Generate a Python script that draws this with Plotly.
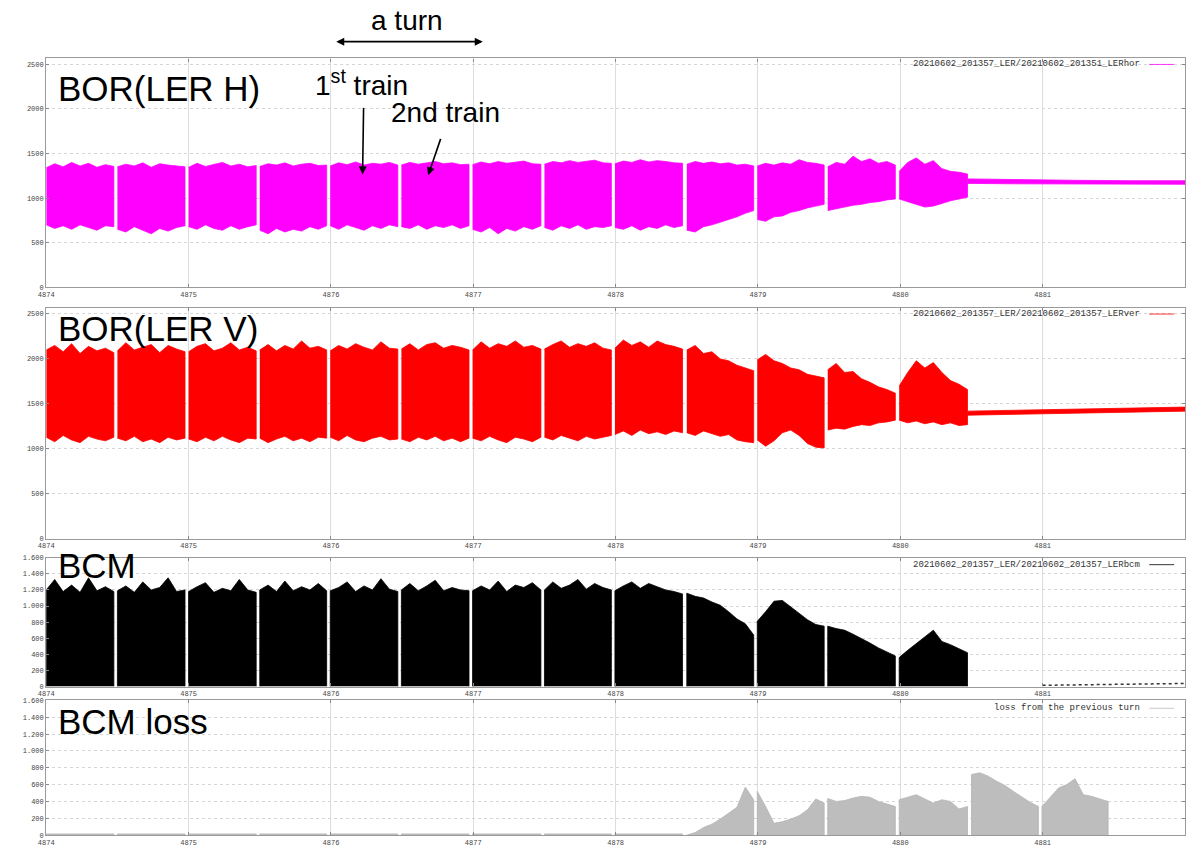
import numpy as np
import plotly.graph_objects as go

W, H = 1188, 850

# ---------------- data ----------------
x_ticks = [4874, 4875, 4876, 4877, 4878, 4879, 4880, 4881, 4882]
x_ticklabels = ["4874", "4875", "4876", "4877", "4878", "4879", "4880", "4881", "4882"]
bor_ticks = [0, 500, 1000, 1500, 2000, 2500]
bor_ticklabels = ["0", "500", "1000", "1500", "2000", "2500"]
bcm_ticks = [0, 200, 400, 600, 800, 1000, 1200, 1400, 1600]
bcm_ticklabels = ["0", "200", "400", "600", "800", "1.000", "1.200", "1.400", "1.600"]

train_start = [4874.0, 4874.50, 4875.0, 4875.50, 4875.995, 4876.495, 4876.995, 4877.50,
               4877.995, 4878.50, 4878.995, 4879.49, 4879.992, 4880.50, 4880.995]
train_end = [4874.475, 4874.975, 4875.475, 4875.97, 4876.47, 4876.97, 4877.475, 4877.97,
             4878.47, 4878.97, 4879.465, 4879.965, 4880.472, 4880.97, 4881.46]

# BOR (LER H): upper / lower envelope per train
borh_top = [
    [1340, 1385, 1350, 1400, 1360, 1390, 1345, 1375, 1355],
    [1350, 1380, 1360, 1395, 1345, 1385, 1370, 1360, 1350],
    [1345, 1390, 1355, 1375, 1400, 1360, 1380, 1350, 1365],
    [1355, 1385, 1370, 1395, 1360, 1380, 1390, 1365, 1370],
    [1360, 1395, 1375, 1405, 1370, 1390, 1380, 1400, 1370],
    [1370, 1400, 1380, 1395, 1410, 1385, 1395, 1375, 1380],
    [1375, 1405, 1385, 1410, 1390, 1400, 1415, 1385, 1380],
    [1380, 1410, 1395, 1420, 1400, 1415, 1425, 1395, 1390],
    [1385, 1415, 1400, 1430, 1405, 1420, 1410, 1395, 1390],
    [1380, 1410, 1390, 1405, 1385, 1395, 1370, 1380, 1360],
    [1360, 1390, 1370, 1395, 1380, 1430, 1400, 1390, 1370],
    [1350, 1400, 1380, 1470, 1410, 1440, 1390, 1410, 1370],
    [1300, 1400, 1450, 1380, 1420, 1330, 1300, 1290, 1270],
]
borh_bot = [
    [700, 660, 690, 650, 700, 670, 640, 690, 680],
    [650, 620, 680, 640, 600, 660, 630, 670, 690],
    [680, 650, 700, 660, 640, 690, 650, 680, 700],
    [640, 600, 660, 620, 650, 630, 680, 650, 690],
    [690, 650, 700, 670, 640, 690, 660, 700, 680],
    [680, 660, 700, 650, 690, 670, 700, 660, 690],
    [650, 620, 670, 600, 660, 630, 680, 650, 690],
    [670, 640, 690, 660, 700, 650, 680, 670, 690],
    [670, 650, 690, 640, 680, 660, 700, 670, 690],
    [640, 620, 680, 700, 730, 760, 790, 830, 860],
    [760, 740, 790, 800, 840, 860, 890, 910, 930],
    [860, 880, 900, 920, 930, 950, 960, 980, 990],
    [990, 960, 930, 900, 910, 940, 970, 990, 1010],
]
borh_tail_x = [4880.472, 4880.8, 4881.2, 4881.6, 4882.0]
borh_tail_top = [1215, 1205, 1200, 1195, 1195]
borh_tail_bot = [1165, 1160, 1160, 1155, 1155]

# BOR (LER V)
borv_top = [
    [2100, 2150, 2080, 2170, 2060, 2140, 2090, 2120, 2070],
    [2090, 2180, 2100, 2130, 2160, 2070, 2150, 2110, 2080],
    [2080, 2140, 2170, 2090, 2120, 2180, 2100, 2130, 2090],
    [2100, 2160, 2090, 2150, 2110, 2200, 2120, 2140, 2100],
    [2090, 2150, 2110, 2170, 2130, 2100, 2190, 2120, 2110],
    [2110, 2170, 2100, 2160, 2180, 2120, 2150, 2130, 2100],
    [2100, 2190, 2120, 2170, 2140, 2200, 2130, 2150, 2110],
    [2110, 2160, 2200, 2130, 2170, 2140, 2180, 2120, 2100],
    [2120, 2210, 2150, 2190, 2130, 2200, 2160, 2140, 2110],
    [2100, 2150, 2060, 2080, 2000, 1980, 1930, 1900, 1870],
    [1990, 2050, 1980, 1950, 1900, 1880, 1830, 1810, 1790],
    [1880, 1950, 1850, 1860, 1780, 1740, 1690, 1660, 1620],
    [1700, 1850, 1980, 1900, 1960, 1850, 1760, 1720, 1660],
]
borv_bot = [
    [1130, 1080, 1150, 1100, 1070, 1140, 1110, 1090, 1130],
    [1120, 1090, 1140, 1080, 1110, 1070, 1130, 1100, 1120],
    [1110, 1080, 1130, 1090, 1140, 1100, 1070, 1120, 1110],
    [1120, 1070, 1110, 1140, 1090, 1120, 1080, 1130, 1120],
    [1130, 1090, 1150, 1100, 1080, 1120, 1140, 1100, 1110],
    [1110, 1080, 1130, 1100, 1140, 1090, 1120, 1080, 1120],
    [1120, 1090, 1140, 1100, 1070, 1130, 1110, 1080, 1130],
    [1130, 1100, 1150, 1120, 1090, 1140, 1110, 1130, 1150],
    [1160, 1200, 1150, 1210, 1170, 1190, 1160, 1200, 1180],
    [1180, 1150, 1200, 1170, 1140, 1160, 1100, 1080, 1070],
    [1100, 1030, 1090, 1180, 1210, 1150, 1060, 1020, 1010],
    [1210, 1230, 1220, 1250, 1270, 1260, 1290, 1300, 1320],
    [1320, 1290, 1310, 1280, 1300, 1270, 1290, 1260, 1270],
]
borv_tail_x = [4880.472, 4881.0, 4881.5, 4882.0]
borv_tail_top = [1420, 1435, 1450, 1465]
borv_tail_bot = [1375, 1390, 1405, 1420]

# BCM
bcm_top = [
    [1200, 1330, 1180, 1260, 1170, 1350, 1190, 1240, 1180],
    [1190, 1250, 1170, 1300, 1200, 1230, 1350, 1180, 1200],
    [1180, 1240, 1290, 1170, 1220, 1190, 1330, 1200, 1170],
    [1200, 1260, 1180, 1310, 1190, 1240, 1200, 1280, 1190],
    [1190, 1230, 1300, 1180, 1250, 1200, 1340, 1210, 1180],
    [1200, 1280, 1190, 1250, 1320, 1190, 1230, 1200, 1190],
    [1190, 1250, 1200, 1310, 1180, 1260, 1230, 1290, 1200],
    [1200, 1300, 1220, 1260, 1330, 1210, 1280, 1230, 1200],
    [1190, 1250, 1300, 1220, 1280, 1240, 1200, 1180, 1150],
    [1160, 1120, 1100, 1050, 1010, 930, 840, 780, 640],
    [810, 930, 1060, 1070, 990, 910, 830, 770, 750],
    [750, 720, 700, 650, 600, 540, 480, 430, 380],
    [360, 450, 530, 620, 700, 560, 520, 470, 420],
]
bcm_tail_x = [4881.0, 4881.3, 4881.7, 4882.0]
bcm_tail_top = [15, 22, 30, 38]

# BCM loss (loss from the previous turn)
loss_top = [
    [14, 14, 14, 14, 14, 14, 14, 14, 14],
    [14, 14, 14, 14, 14, 14, 14, 14, 14],
    [14, 14, 14, 14, 14, 14, 14, 14, 14],
    [14, 14, 14, 14, 14, 14, 14, 14, 14],
    [14, 14, 14, 14, 14, 14, 14, 14, 14],
    [14, 14, 14, 14, 14, 14, 14, 14, 14],
    [14, 14, 14, 14, 14, 14, 14, 14, 14],
    [14, 14, 14, 14, 14, 14, 14, 14, 14],
    [14, 14, 14, 14, 14, 14, 14, 14, 14],
    [0, 30, 90, 130, 190, 260, 330, 570, 420],
    [520, 340, 140, 160, 190, 230, 300, 430, 380],
    [435, 400, 410, 440, 460, 450, 400, 370, 340],
    [420, 450, 480, 430, 380, 420, 400, 310, 340],
    [720, 740, 700, 640, 590, 520, 450, 390, 340],
    [340, 450, 560, 600, 670, 480, 460, 430, 400],
]

# ---------------- helpers ----------------
def band(tops, bots):
    xs, ys = [], []
    for k, (t, b) in enumerate(zip(tops, bots)):
        xk = list(np.linspace(train_start[k], train_end[k], len(t)))
        xs += xk + xk[::-1] + [None]
        ys += list(t) + list(b)[::-1] + [None]
    return xs, ys


def bars(tops):
    xs, ys = [], []
    for k, t in enumerate(tops):
        xk = list(np.linspace(train_start[k], train_end[k], len(t)))
        xs += [train_start[k]] + xk + [train_end[k], None]
        ys += [0] + list(t) + [0, None]
    return xs, ys


def px(xp):
    return xp / W


def py(yp):
    return 1 - yp / H


fig = go.Figure()

# Panel 1
bx, by = band(borh_top, borh_bot)
fig.add_trace(go.Scatter(x=bx, y=by, fill="toself", fillcolor="#ff00ff", mode="lines",
                         line=dict(color="#ff00ff", width=0.8), xaxis="x", yaxis="y",
                         showlegend=False, hoverinfo="skip"))
fig.add_trace(go.Scatter(x=borh_tail_x + borh_tail_x[::-1], y=borh_tail_top + borh_tail_bot[::-1],
                         fill="toself", fillcolor="#ff00ff", mode="lines",
                         line=dict(color="#ff00ff", width=0.8), xaxis="x", yaxis="y",
                         showlegend=False, hoverinfo="skip"))
# Panel 2
bx, by = band(borv_top, borv_bot)
fig.add_trace(go.Scatter(x=bx, y=by, fill="toself", fillcolor="#ff0000", mode="lines",
                         line=dict(color="#ff0000", width=0.8), xaxis="x2", yaxis="y2",
                         showlegend=False, hoverinfo="skip"))
fig.add_trace(go.Scatter(x=borv_tail_x + borv_tail_x[::-1], y=borv_tail_top + borv_tail_bot[::-1],
                         fill="toself", fillcolor="#ff0000", mode="lines",
                         line=dict(color="#ff0000", width=0.8), xaxis="x2", yaxis="y2",
                         showlegend=False, hoverinfo="skip"))
# Panel 3
bx, by = bars(bcm_top)
fig.add_trace(go.Scatter(x=bx, y=by, fill="toself", fillcolor="#000000", mode="lines",
                         line=dict(color="#000000", width=0.8), xaxis="x3", yaxis="y3",
                         showlegend=False, hoverinfo="skip"))
fig.add_trace(go.Scatter(x=bcm_tail_x, y=bcm_tail_top, mode="lines",
                         line=dict(color="#333333", width=1.5, dash="dot"), xaxis="x3", yaxis="y3",
                         showlegend=False, hoverinfo="skip"))
# Panel 4
bx, by = bars(loss_top)
fig.add_trace(go.Scatter(x=bx, y=by, fill="toself", fillcolor="#bdbdbd", mode="lines",
                         line=dict(color="#b5b5b5", width=0.8), xaxis="x4", yaxis="y4",
                         showlegend=False, hoverinfo="skip"))

# ---------------- axes ----------------
xdom = [38.5 / W, 1185 / W]
panels = [  # (top px, bottom px, range, ticks, labels)
    (55, 286, [0, 2565], bor_ticks, bor_ticklabels),
    (307, 540, [0, 2565], bor_ticks, bor_ticklabels),
    (559, 689, [0, 1600], bcm_ticks, bcm_ticklabels),
    (703, 839, [0, 1600], bcm_ticks, bcm_ticklabels),
]
tickfont = dict(family="Liberation Mono", size=7, color="#444444")
layout = dict(width=W, height=H, margin=dict(l=0, r=0, t=0, b=0),
              paper_bgcolor="white", plot_bgcolor="white", showlegend=False)
for i, (top, bot, rng, tv, tt) in enumerate(panels, start=1):
    sx = "" if i == 1 else str(i)
    layout["xaxis" + sx] = dict(
        domain=xdom, range=[4874, 4882], anchor="y" + sx,
        tickmode="array", tickvals=x_ticks, ticktext=x_ticklabels,
        showgrid=True, gridcolor="#dddddd", gridwidth=1,
        showline=True, linecolor="#9a9a9a", linewidth=1.2, mirror="ticks",
        ticks="inside", ticklen=3, tickcolor="#888888", tickfont=tickfont,
        zeroline=False, fixedrange=True)
    layout["yaxis" + sx] = dict(
        domain=[py(bot), py(top)], range=rng, anchor="x" + sx,
        tickmode="array", tickvals=tv, ticktext=tt,
        showgrid=True, gridcolor="#d6d6d6", griddash="dot", gridwidth=1,
        showline=True, linecolor="#9a9a9a", linewidth=1.2, mirror="ticks",
        ticks="inside", ticklen=3, tickcolor="#888888", tickfont=tickfont,
        zeroline=False, fixedrange=True)
fig.update_layout(**layout)

# ---------------- text ----------------
annotations = []
titles = [("BOR(LER H)", 85), ("BOR(LER V)", 328), ("BCM", 567), ("BCM loss", 724)]
for t, yc in titles:
    annotations.append(dict(text=t, x=px(57), y=py(yc), xref="paper", yref="paper",
                            xanchor="left", yanchor="middle", showarrow=False, borderpad=0,
                            xshift=-8,
                            font=dict(family="Liberation Sans", size=35, color="black")))

legends = [("20210602_201357_LER/20210602_201351_LERhor", 61, "#ff00ff"),
           ("20210602_201357_LER/20210602_201357_LERver", 313, "#ff0000"),
           ("20210602_201357_LER/20210602_201357_LERbcm", 566, "#000000"),
           ("loss from the previous turn", 711, "#bbbbbb")]
shapes = []
for t, yc, col in legends:
    annotations.append(dict(text=t, x=px(1142), y=py(yc), xref="paper", yref="paper",
                            xanchor="right", yanchor="middle", showarrow=False,
                            font=dict(family="Liberation Mono", size=9, color="#333333")))
    shapes.append(dict(type="line", xref="paper", yref="paper", x0=px(1149), x1=px(1174),
                       y0=py(yc), y1=py(yc), line=dict(color=col, width=0.8)))

ann_font = dict(family="Liberation Sans", size=28, color="black")
# "a turn" with double arrow
annotations.append(dict(text="a turn", x=px(402), y=py(17), xref="paper", yref="paper",
                        xanchor="center", yanchor="middle", showarrow=False, font=ann_font))
annotations.append(dict(text="", x=px(478), y=py(38), xref="paper", yref="paper",
                        ax=-148, ay=0, axref="pixel", ayref="pixel", showarrow=True,
                        arrowhead=2, startarrowhead=2, arrowside="end+start",
                        arrowwidth=1.6, arrowsize=1, startarrowsize=1, arrowcolor="black"))
# 1st train
annotations.append(dict(text="1<sup>st</sup> train", x=px(356), y=py(80), xref="paper", yref="paper",
                        xanchor="center", yanchor="middle", showarrow=False, font=ann_font))
annotations.append(dict(text="", x=px(357), y=py(172), xref="paper", yref="paper",
                        ax=1, ay=-68, axref="pixel", ayref="pixel", showarrow=True,
                        arrowhead=2, arrowwidth=1.6, arrowsize=1, arrowcolor="black"))
# 2nd train
annotations.append(dict(text="2nd train", x=px(440), y=py(110), xref="paper", yref="paper",
                        xanchor="center", yanchor="middle", showarrow=False, font=ann_font))
annotations.append(dict(text="", x=px(423), y=py(173), xref="paper", yref="paper",
                        ax=13, ay=-38, axref="pixel", ayref="pixel", showarrow=True,
                        arrowhead=2, arrowwidth=1.6, arrowsize=1, arrowcolor="black"))

fig.update_layout(annotations=annotations, shapes=shapes)
fig.write_html("out.html")
